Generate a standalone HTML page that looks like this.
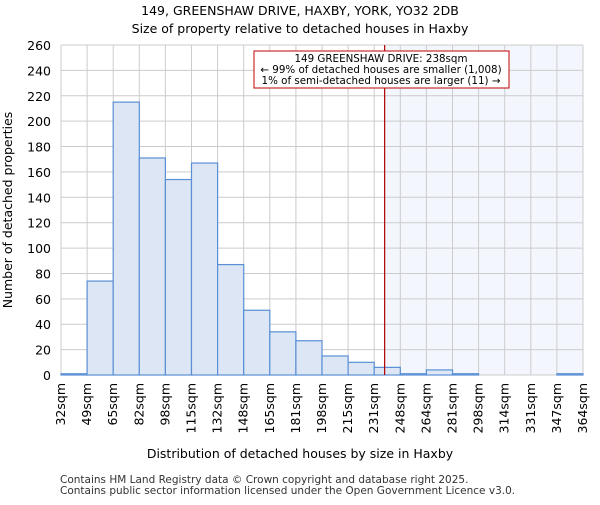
<!DOCTYPE html>
<html><head><meta charset="utf-8"><style>
body{margin:0;background:#fff;font-family:"Liberation Sans","DejaVu Sans",sans-serif}
svg text{font-family:"DejaVu Sans","Liberation Sans",sans-serif}
</style></head><body>
<svg id="c" width="600" height="500" xmlns="http://www.w3.org/2000/svg">
<text x="300" y="15" text-anchor="middle" font-size="12.5">149, GREENSHAW DRIVE, HAXBY, YORK, YO32 2DB</text>
<text x="300" y="33" text-anchor="middle" font-size="12.5">Size of property relative to detached houses in Haxby</text>
<g id="plot"></g>
<text x="300" y="458" text-anchor="middle" font-size="12.5">Distribution of detached houses by size in Haxby</text>
<text transform="translate(12,210) rotate(-90)" text-anchor="middle" font-size="12.5">Number of detached properties</text>
<text x="60" y="483" font-size="10.5" fill="#333">Contains HM Land Registry data © Crown copyright and database right 2025.</text>
<text x="60" y="494" font-size="10.5" fill="#333">Contains public sector information licensed under the Open Government Licence v3.0.</text>
</svg>
<script>
const binLabels=["32sqm","49sqm","65sqm","82sqm","98sqm","115sqm","132sqm","148sqm","165sqm","181sqm","198sqm","215sqm","231sqm","248sqm","264sqm","281sqm","298sqm","314sqm","331sqm","347sqm","364sqm"];
const counts=[1,74,215,171,154,167,87,51,34,27,15,10,6,1,4,1,0,0,0,1];
const yTicks=[0,20,40,60,80,100,120,140,160,180,200,220,240,260];
const propertyBinPos=[12.4];
const X0=61,X1=583,Y0=375,Y1=45,YMAX=260;
const nb=counts.length;
const xs=i=>X0+(X1-X0)*i/nb;
const ys=v=>Y0-(Y0-Y1)*v/YMAX;
const NS="http://www.w3.org/2000/svg";
const g=document.getElementById('plot');
function mk(t,a){const e=document.createElementNS(NS,t);for(const k in a)e.setAttribute(k,a[k]);g.appendChild(e);return e;}
const lx=xs(propertyBinPos[0]);
let e=mk('rect',{x:lx,y:Y1,width:X1-lx,height:Y0-Y1,fill:'#f3f6fd'});


yTicks.forEach(v=>{
 let l=mk('line',{x1:X0,x2:X1,y1:ys(v),y2:ys(v),stroke:'#cccccc','stroke-width':1});
 
 
 let t=mk('text',{x:X0-10,y:ys(v)+5,'text-anchor':'end','font-size':'12.5'});
 t.textContent=v;
 
 
});
binLabels.forEach((s,i)=>{
 let l=mk('line',{x1:xs(i),x2:xs(i),y1:Y1,y2:Y0,stroke:'#cccccc','stroke-width':1});
 
 
 let t=mk('text',{transform:`translate(${xs(i)+4},${Y0+8}) rotate(-90)`,'text-anchor':'end','font-size':'12.5'});
 t.textContent=s;
 
 
});
counts.forEach((v,i)=>{
 let r=mk('rect',{x:xs(i),y:ys(v),width:xs(i+1)-xs(i),height:Y0-ys(v),fill:i>=13?'#dfe8f5':'#dce6f4',stroke:'#5a8fd6','stroke-width':1.2});
 
 
});
e=mk('line',{x1:lx,x2:lx,y1:Y1,y2:Y0,stroke:'#b00000','stroke-width':1.2});


e=mk('rect',{x:254,y:51,width:255,height:37,fill:'#fff',stroke:'#c00000','stroke-width':1});


["149 GREENSHAW DRIVE: 238sqm","← 99% of detached houses are smaller (1,008)","1% of semi-detached houses are larger (11) →"].forEach((s,i)=>{
 let t=mk('text',{x:381,y:62+i*11,'text-anchor':'middle','font-size':'10.3'});
 t.textContent=s;
 
 
});
</script>
</body></html>
